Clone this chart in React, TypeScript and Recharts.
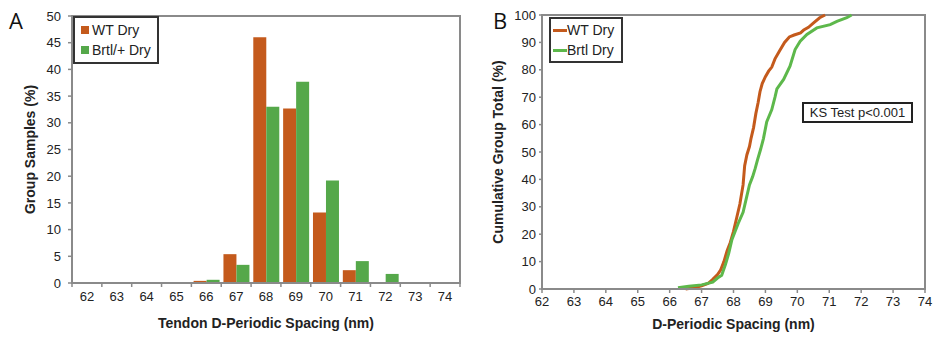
import React from "react";
import {
  BarChart,
  Bar,
  LineChart,
  Line,
  XAxis,
  YAxis,
  Legend,
  ReferenceArea,
} from "recharts";

// Panel A: histogram of D-periodic spacing
const spacingBins = ["62", "63", "64", "65", "66", "67", "68", "69", "70", "71", "72", "73", "74"];
const wtPct = [0, 0, 0, 0, 0.4, 5.4, 46, 32.7, 13.2, 2.4, 0, 0, 0];
const brtlPct = [0, 0, 0, 0, 0.6, 3.4, 33, 37.7, 19.2, 4.1, 1.7, 0, 0];
const pctTicks = [0, 5, 10, 15, 20, 25, 30, 35, 40, 45, 50];
const histNames = ["WT Dry", "Brtl/+ Dry"];

// Panel B: cumulative distributions
const wtX = [66.5, 66.8, 67.0, 67.2, 67.35, 67.5, 67.6, 67.7, 67.8, 67.9, 68.0, 68.1, 68.2, 68.3, 68.35, 68.42, 68.5, 68.55, 68.63, 68.7, 68.77, 68.83, 68.9, 69.0, 69.1, 69.2, 69.3, 69.45, 69.6, 69.75, 69.9, 70.1, 70.2, 70.35, 70.5, 70.7, 70.87];
const wtCum = [0, 0.5, 1.2, 2, 3.5, 5.3, 7, 10, 14, 17, 21, 26, 31, 38, 45, 49, 52, 55, 59, 64, 68, 72, 75, 77.5, 79.5, 81, 84, 87, 90, 92, 92.7, 93.5, 94.5, 95.5, 97, 99, 100];
const brtlX = [66.26, 66.6, 67.0, 67.35, 67.5, 67.63, 67.75, 67.85, 67.95, 68.05, 68.15, 68.3, 68.42, 68.5, 68.6, 68.68, 68.75, 68.85, 68.94, 69.04, 69.2, 69.3, 69.36, 69.57, 69.77, 69.93, 70.09, 70.3, 70.61, 71.03, 71.24, 71.55, 71.7];
const brtlCum = [0.5, 1, 1.5, 2.5, 4, 5, 9, 13, 18, 21, 24, 28, 34, 38, 41, 44, 47, 51, 55, 61, 65.5, 70, 73, 76.5, 81.3, 87.4, 90.4, 92.9, 95.3, 96.5, 97.7, 99, 100];
const spacingTicks = [62, 63, 64, 65, 66, 67, 68, 69, 70, 71, 72, 73, 74];
const cumTicks = [0, 10, 20, 30, 40, 50, 60, 70, 80, 90, 100];
const cumNames = ["WT Dry", "Brtl Dry"];

const histData = spacingBins.map((bin, i) => ({ bin, wt: wtPct[i], brtl: brtlPct[i] }));
const wtLine = wtX.map((x, i) => ({ x, y: wtCum[i] }));
const brtlLine = brtlX.map((x, i) => ({ x, y: brtlCum[i] }));

const ORANGE = "#C45A1C";
const GREEN = "#55A84A";
const GREEN_LINE = "#5DB84B";
const AXIS = "#8a8a8a";
const FONT = "'Liberation Sans', Arial, sans-serif";
const tickStyle = { fontSize: 13, fill: "#222", fontFamily: FONT };
const titleStyle = { fontSize: 14, fontWeight: 700, fill: "#222", fontFamily: FONT };

const A_W = 470;
const A_MARGIN = { top: 16, right: 10, bottom: 12, left: 14 };
const A_YW = 58;
const BAND = (A_W - A_MARGIN.left - A_MARGIN.right - A_YW) / spacingBins.length;
const TS = 4;
const TM = 5;

function BinTick(props: any) {
  const { x, y, payload, index, visibleTicksCount } = props;
  const axisY = y - TS - TM;
  const half = BAND / 2;
  return (
    <g>
      <line x1={x - half} x2={x - half} y1={axisY} y2={axisY + TS} stroke={AXIS} strokeWidth={1.5} />
      {index === visibleTicksCount - 1 && (
        <line x1={x + half} x2={x + half} y1={axisY} y2={axisY + TS} stroke={AXIS} strokeWidth={1.5} />
      )}
      <text x={x} y={y} dy="0.71em" textAnchor="middle" {...tickStyle}>
        {payload.value}
      </text>
    </g>
  );
}

function BoxLegend(props: any) {
  const { payload, lineSwatch, order } = props;
  const items = [...(payload || [])].sort(
    (a: any, b: any) => order.indexOf(a.value) - order.indexOf(b.value)
  );
  return (
    <div
      style={{
        border: "2px solid #333",
        background: "#fff",
        padding: lineSwatch ? "1px 4px 1px 2px" : "2px 4px 2px 6px",
        fontFamily: FONT,
        fontSize: 14,
        color: "#222",
      }}
    >
      {items.map((p: any) => (
        <div key={p.value} style={{ display: "flex", alignItems: "center", height: 20 }}>
          {lineSwatch ? (
            <span style={{ display: "inline-block", width: 14, height: 3, background: p.color }} />
          ) : (
            <span style={{ display: "inline-block", width: 8, height: 8, background: p.color, marginRight: 3 }} />
          )}
          <span>{p.value}</span>
        </div>
      ))}
    </div>
  );
}

const panelLetter: React.CSSProperties = {
  position: "absolute",
  top: 9,
  fontFamily: "'Open Sans', sans-serif",
  fontSize: 22,
  lineHeight: "22px",
  color: "#111",
};

export default function App() {
  return (
    <div style={{ position: "absolute", left: 0, top: 0, width: 934, height: 339, background: "#fff" }}>
      <div style={{ ...panelLetter, left: 9 }}>A</div>
      <div style={{ ...panelLetter, left: 493 }}>B</div>

      <div style={{ position: "absolute", left: 0, top: 0 }}>
        <BarChart
          width={A_W}
          height={339}
          data={histData}
          margin={A_MARGIN}
          barCategoryGap="7.4%"
          barGap={0}
        >
          <XAxis
            dataKey="bin"
            height={44}
            axisLine={{ stroke: AXIS, strokeWidth: 2 }}
            tickLine={false}
            tickSize={TS}
            tickMargin={TM}
            tick={<BinTick />}
            interval={0}
            label={{ value: "Tendon D-Periodic Spacing (nm)", position: "insideBottom", offset: -1, style: titleStyle }}
          />
          <YAxis
            width={A_YW}
            domain={[0, 50]}
            ticks={pctTicks}
            interval={0}
            axisLine={{ stroke: AXIS, strokeWidth: 2 }}
            tickLine={{ stroke: AXIS, strokeWidth: 1.5 }}
            tickSize={4}
            tickMargin={7}
            tick={tickStyle}
            label={{
              value: "Group Samples (%)",
              angle: -90,
              position: "insideLeft",
              offset: 16,
              style: { ...titleStyle, textAnchor: "middle" },
            }}
          />
          <ReferenceArea y1={0} y2={50} fill="none" stroke={AXIS} strokeWidth={2} ifOverflow="visible" />
          <Bar dataKey="wt" name={histNames[0]} fill={ORANGE} isAnimationActive={false} />
          <Bar dataKey="brtl" name={histNames[1]} fill={GREEN} isAnimationActive={false} />
          <Legend
            layout="vertical"
            align="center"
            verticalAlign="middle"
            wrapperStyle={{ left: 73, top: 16, width: 86 }}
            content={<BoxLegend order={histNames} />}
          />
        </BarChart>
      </div>

      <div style={{ position: "absolute", left: 470, top: 0 }}>
        <LineChart width={464} height={339} margin={{ top: 15, right: 9, bottom: 12, left: 22 }}>
          <XAxis
            type="number"
            dataKey="x"
            domain={[62, 74]}
            ticks={spacingTicks}
            interval={0}
            height={38}
            allowDuplicatedCategory={false}
            axisLine={{ stroke: AXIS, strokeWidth: 2 }}
            tickLine={{ stroke: AXIS, strokeWidth: 1.5 }}
            tickSize={4}
            tickMargin={4}
            tick={tickStyle}
            label={{ value: "D-Periodic Spacing (nm)", position: "insideBottom", offset: -2, style: titleStyle }}
          />
          <YAxis
            type="number"
            domain={[0, 100]}
            ticks={cumTicks}
            interval={0}
            width={50}
            axisLine={{ stroke: AXIS, strokeWidth: 2 }}
            tickLine={{ stroke: AXIS, strokeWidth: 1.5 }}
            tickSize={3}
            tickMargin={3}
            tick={tickStyle}
            label={{
              value: "Cumulative Group Total (%)",
              angle: -90,
              position: "insideLeft",
              offset: 6,
              style: { ...titleStyle, textAnchor: "middle" },
            }}
          />
          <ReferenceArea x1={62} x2={74} y1={0} y2={100} fill="none" stroke={AXIS} strokeWidth={2} ifOverflow="visible" />
          <Line
            data={wtLine}
            dataKey="y"
            name={cumNames[0]}
            type="linear"
            stroke={ORANGE}
            strokeWidth={3}
            dot={false}
            isAnimationActive={false}
          />
          <Line
            data={brtlLine}
            dataKey="y"
            name={cumNames[1]}
            type="linear"
            stroke={GREEN_LINE}
            strokeWidth={3}
            dot={false}
            isAnimationActive={false}
          />
          <Legend
            layout="vertical"
            align="center"
            verticalAlign="middle"
            wrapperStyle={{ left: 79, top: 17, width: 74 }}
            content={<BoxLegend lineSwatch order={cumNames} />}
          />
        </LineChart>
        <div
          style={{
            position: "absolute",
            left: 332,
            top: 102,
            width: 107,
            height: 17,
            border: "2px solid #222",
            background: "#fff",
            fontFamily: FONT,
            fontSize: 13,
            lineHeight: "17px",
            textAlign: "center",
            color: "#222",
          }}
        >
          KS Test p&lt;0.001
        </div>
      </div>
    </div>
  );
}
